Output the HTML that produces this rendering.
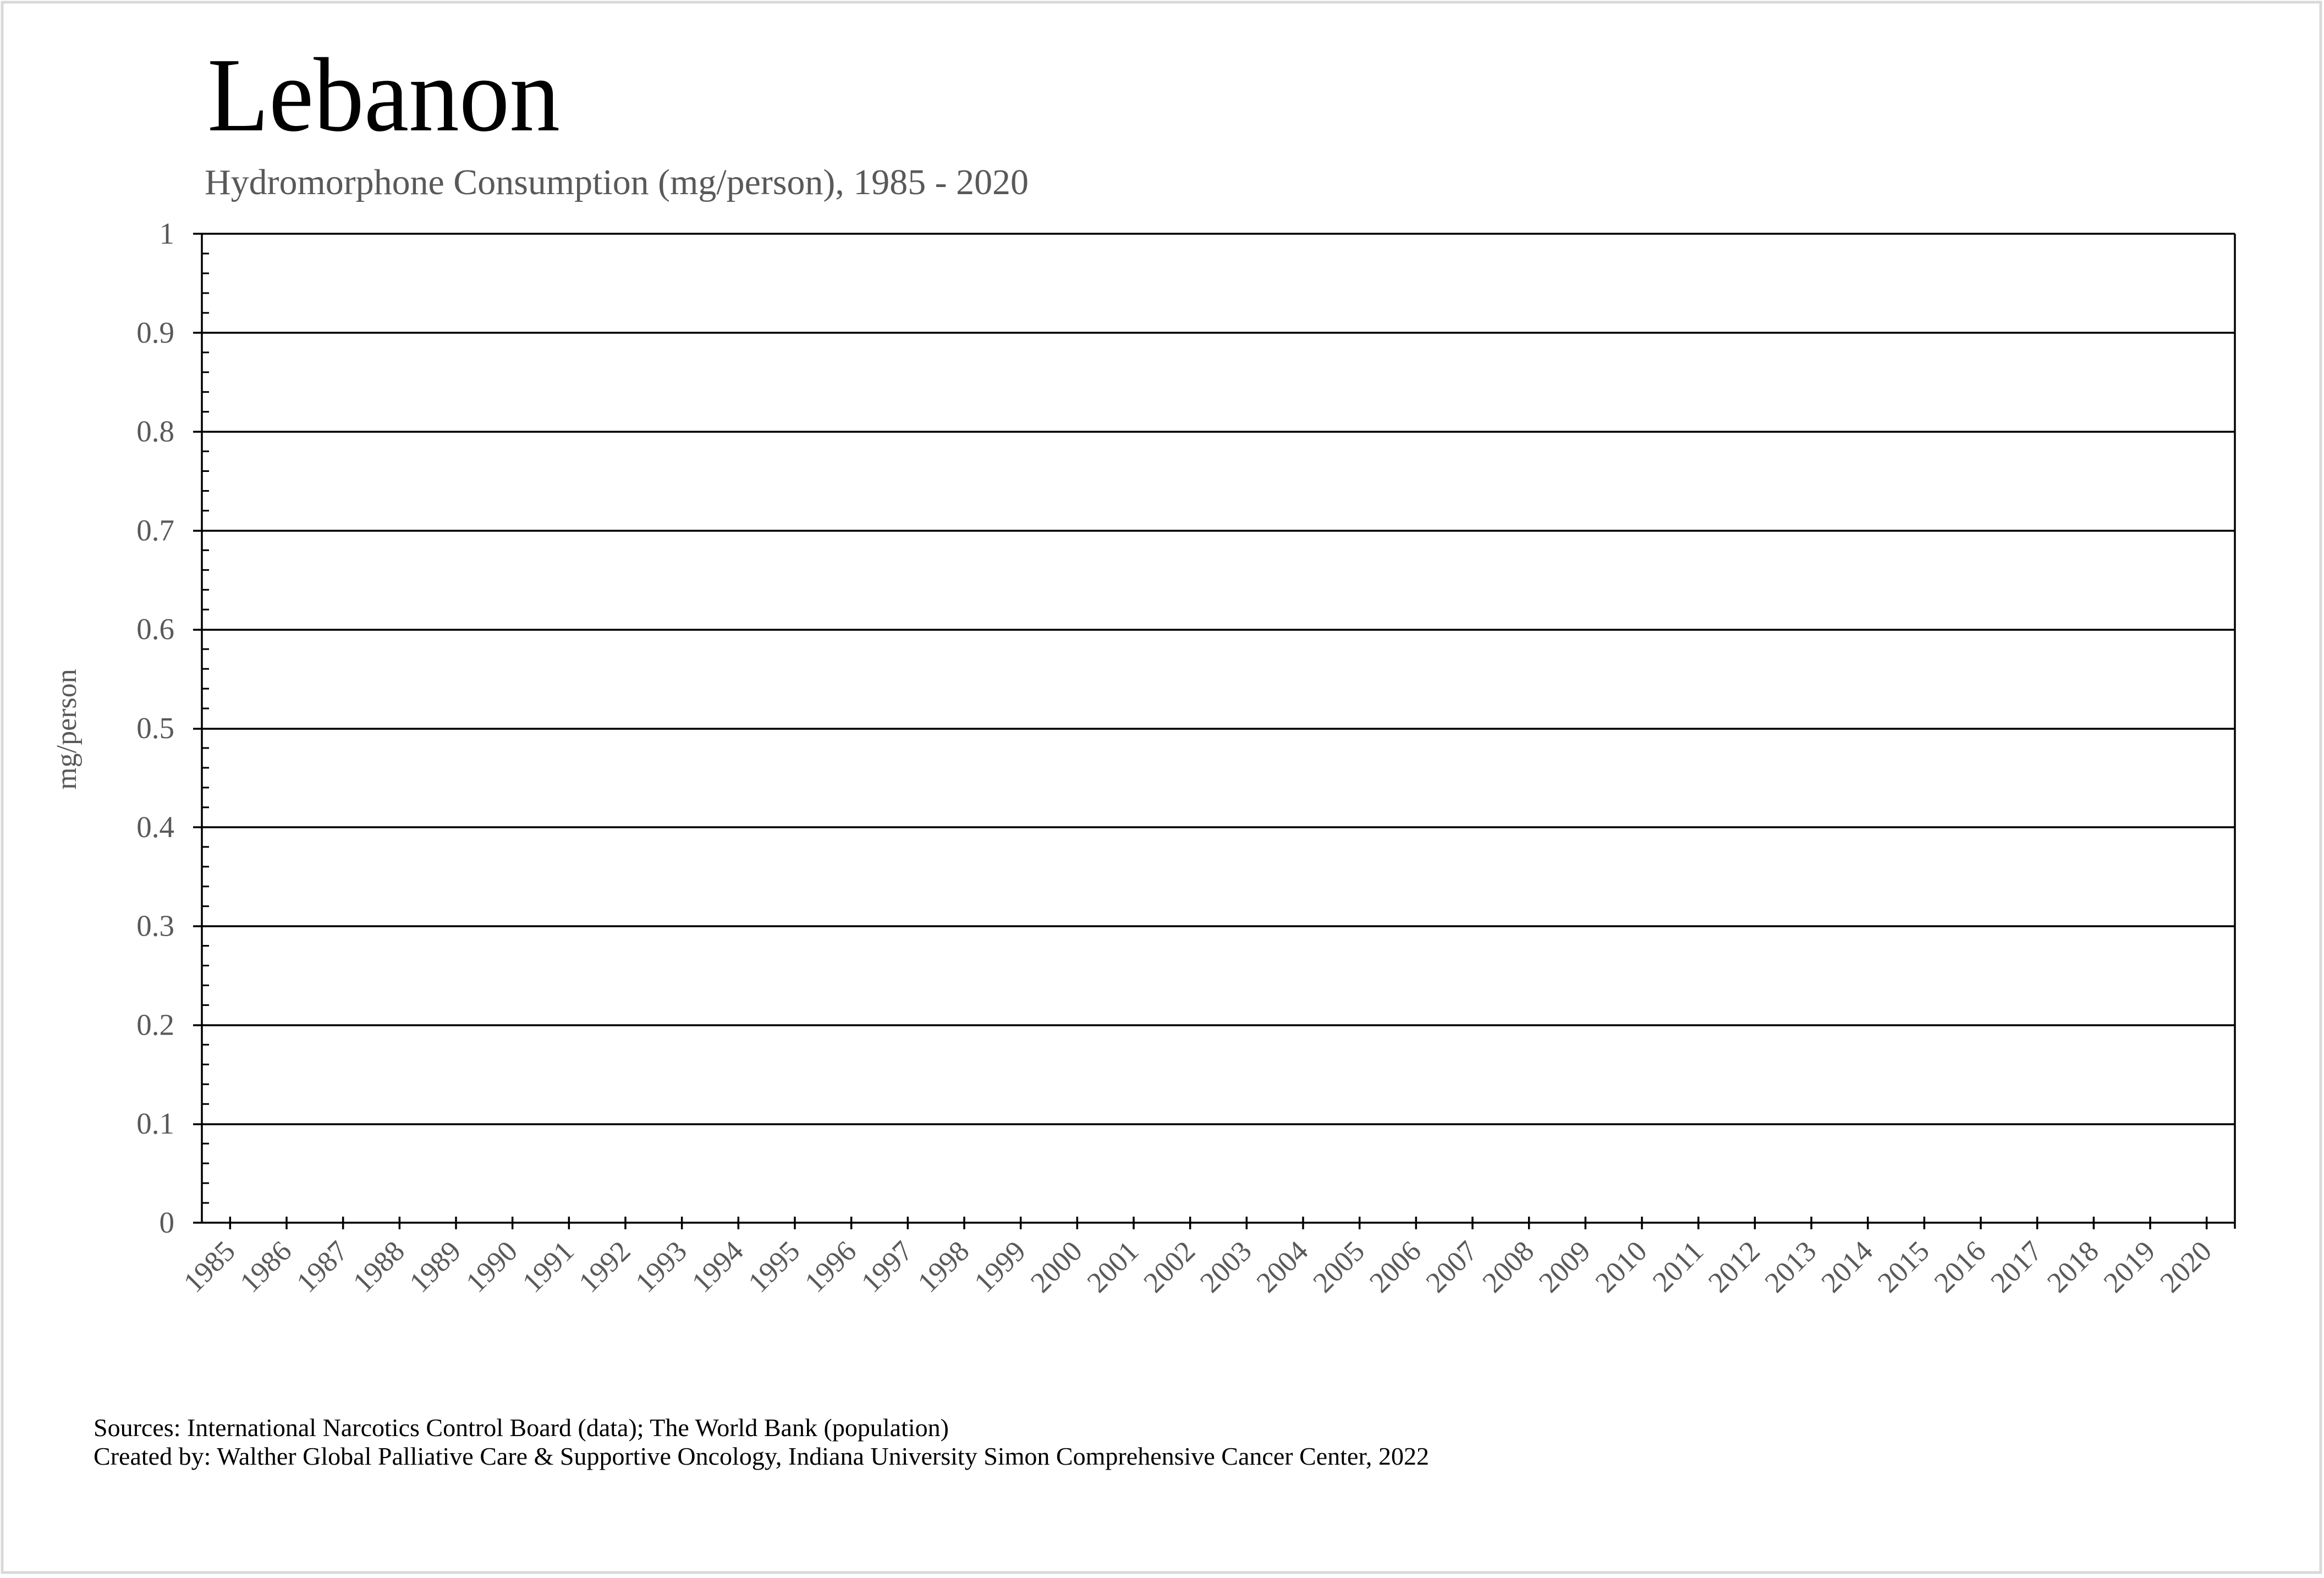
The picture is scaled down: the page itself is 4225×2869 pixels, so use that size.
<!DOCTYPE html>
<html><head><meta charset="utf-8"><style>
html,body{margin:0;padding:0;background:#fff;}
svg{display:block;}
text{font-family:"Liberation Serif",serif;}
</style></head><body>
<svg width="4225" height="2869" viewBox="0 0 4225 2869" xmlns="http://www.w3.org/2000/svg">
<rect x="4" y="4" width="4215" height="2855" fill="#fff" stroke="#d9d9d9" stroke-width="5"/>
<text x="377" y="237" font-size="192" fill="#000" textLength="641" lengthAdjust="spacingAndGlyphs">Lebanon</text>
<text x="372" y="353" font-size="66" fill="#595959" textLength="1498" lengthAdjust="spacingAndGlyphs">Hydromorphone Consumption (mg/person), 1985 - 2020</text>
<g id="grid" stroke="#000" stroke-width="3.5">
<line x1="351" y1="425" x2="4063" y2="425"/>
<line x1="351" y1="605" x2="4063" y2="605"/>
<line x1="351" y1="785" x2="4063" y2="785"/>
<line x1="351" y1="965" x2="4063" y2="965"/>
<line x1="351" y1="1145" x2="4063" y2="1145"/>
<line x1="351" y1="1325" x2="4063" y2="1325"/>
<line x1="351" y1="1504" x2="4063" y2="1504"/>
<line x1="351" y1="1684" x2="4063" y2="1684"/>
<line x1="351" y1="1864" x2="4063" y2="1864"/>
<line x1="351" y1="2044" x2="4063" y2="2044"/>
<line x1="351" y1="2223" x2="4063" y2="2223"/>
<line x1="367" y1="425" x2="367" y2="2223"/>
<line x1="4063" y1="425" x2="4063" y2="2234"/>
</g>
<g id="minor" stroke="#000" stroke-width="3"></g>
<g id="xt" stroke="#000" stroke-width="3.5"></g>
<g id="yl" font-size="55" fill="#595959" text-anchor="end"></g>
<g id="xl" font-size="53" fill="#595959" text-anchor="end"></g>
<text transform="translate(138,1326) rotate(-90)" font-size="52" fill="#595959" text-anchor="middle">mg/person</text>
<text x="170" y="2611" font-size="45" fill="#000" textLength="1555" lengthAdjust="spacingAndGlyphs">Sources: International Narcotics Control Board (data); The World Bank (population)</text>
<text x="170" y="2663" font-size="45" fill="#000" textLength="2428" lengthAdjust="spacingAndGlyphs">Created by: Walther Global Palliative Care &amp; Supportive Oncology, Indiana University Simon Comprehensive Cancer Center, 2022</text>
</svg>
<script>
(function(){
var ns="http://www.w3.org/2000/svg";
function el(p,t,a,txt){var e=document.createElementNS(ns,t);for(var k in a)e.setAttribute(k,a[k]);if(txt!==undefined)e.textContent=txt;document.getElementById(p).appendChild(e);}
var top=425,bot=2223,step=(bot-top)/10;
for(var i=0;i<50;i++){if(i%5==0)continue;var y=top+i*step/5;el("minor","line",{x1:367,y1:y,x2:380,y2:y});}
var labs=["1","0.9","0.8","0.7","0.6","0.5","0.4","0.3","0.2","0.1","0"];
for(var i=0;i<=10;i++){el("yl","text",{x:317,y:top+i*step+18},labs[i]);}
var sp=(4063-367)/36;
for(var j=0;j<36;j++){var x=367+sp*(j+0.5);el("xt","line",{x1:x,y1:2212,x2:x,y2:2235});
el("xl","text",{transform:"translate("+(x+12)+",2278) rotate(-45)"},String(1985+j));}
})();
</script>
</body></html>
